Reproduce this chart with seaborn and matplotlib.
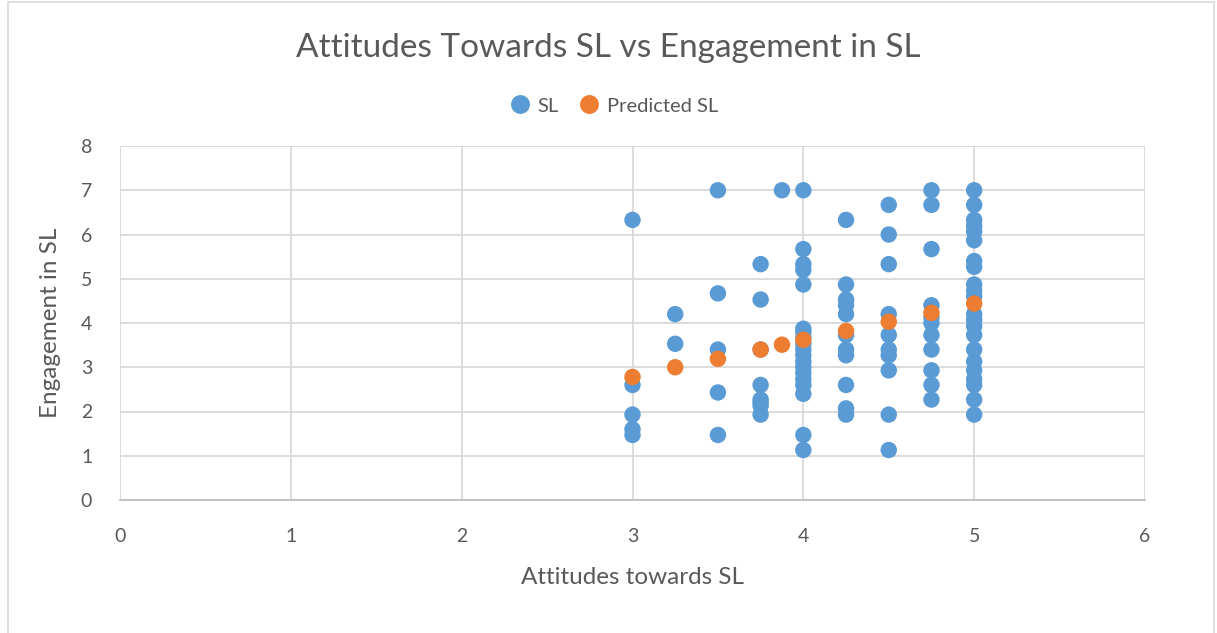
import matplotlib
matplotlib.use("Agg")
import matplotlib.pyplot as plt
import seaborn as sns
import pandas as pd
from matplotlib.patches import Rectangle

# ---- data ----
sl_x = ([3.0] * 5 + [3.25] * 2 + [3.5] * 5 + [3.75] * 8 + [3.875] * 1 +
        [4.0] * 19 + [4.25] * 11 + [4.5] * 10 + [4.75] * 11 + [5.0] * 22)
sl_y = [6.33, 2.6, 1.93, 1.6, 1.47,
        4.2, 3.53,
        7.0, 4.67, 3.4, 2.43, 1.47,
        5.33, 4.53, 3.4, 2.6, 2.27, 2.2, 2.13, 1.93,
        7.0,
        7.0, 5.67, 5.33, 5.2, 4.87, 3.87, 3.8, 3.67, 3.53, 3.4, 3.27, 3.13, 3.0,
        2.87, 2.73, 2.6, 2.4, 1.47, 1.13,
        6.33, 4.87, 4.53, 4.4, 4.2, 3.73, 3.4, 3.27, 2.6, 2.07, 1.93,
        6.67, 6.0, 5.33, 4.2, 3.73, 3.4, 3.27, 2.93, 1.93, 1.13,
        7.0, 6.67, 5.67, 4.4, 4.13, 4.0, 3.73, 3.4, 2.93, 2.6, 2.27,
        7.0, 6.67, 6.33, 6.2, 6.07, 5.87, 5.4, 5.27, 4.87, 4.73, 4.6, 4.2,
        4.07, 3.93, 3.73, 3.4, 3.13, 2.93, 2.73, 2.6, 2.27, 1.93]
pred_x = [3.0, 3.25, 3.5, 3.75, 3.875, 4.0, 4.25, 4.5, 4.75, 5.0]
pred_y = [2.78, 3.0, 3.19, 3.40, 3.51, 3.62, 3.82, 4.03, 4.23, 4.44]

x_ticks = [0, 1, 2, 3, 4, 5, 6]
y_ticks = [0, 1, 2, 3, 4, 5, 6, 7, 8]
series_names = ["SL", "Predicted SL"]

title = "Attitudes Towards SL vs Engagement in SL"
x_label = "Attitudes towards SL"
y_label = "Engagement in SL"

df = pd.DataFrame({
    "x": list(sl_x) + pred_x,
    "y": sl_y + pred_y,
    "series": [series_names[0]] * len(sl_x) + [series_names[1]] * len(pred_x),
})

# ---- style ----
sns.set_theme(style="white")
plt.rcParams["font.family"] = ["Lato", "DejaVu Sans"]
text_col = "#595959"
grid_col = "#D9D9D9"
palette = {"SL": "#5B9BD5", "Predicted SL": "#ED7D31"}

fig = plt.figure(figsize=(12.17, 6.33), dpi=100)
ax = fig.add_axes([120 / 1217, 1 - 500 / 633, (1145 - 120) / 1217, (500 - 146) / 633])

sns.scatterplot(data=df, x="x", y="y", hue="series", palette=palette,
                s=140, edgecolor="none", linewidth=0, ax=ax, zorder=3)

ax.set_xlim(0, 6)
ax.set_ylim(0, 8)
ax.set_xticks(x_ticks)
ax.set_yticks(y_ticks)
ax.grid(True, color=grid_col, linewidth=1.3, zorder=0)
ax.set_axisbelow(True)
for s in ["top", "right", "left"]:
    ax.spines[s].set_visible(False)
ax.spines["bottom"].set_color("#BFBFBF")
ax.spines["bottom"].set_linewidth(1.3)
ax.tick_params(axis="both", length=0, labelsize=14, labelcolor=text_col)
ax.tick_params(axis="x", pad=20)
ax.tick_params(axis="y", pad=20)

ax.set_xlabel(x_label, fontsize=17.5, color=text_col, labelpad=16)
ax.set_ylabel(y_label, fontsize=17.5, color=text_col, labelpad=14)

fig.text(0.5, 1 - 48 / 633, title, ha="center", va="center", fontsize=24, color=text_col)

sns.move_legend(ax, "center", bbox_to_anchor=(609 / 1217, 1 - 106 / 633),
                bbox_transform=fig.transFigure, ncol=2, frameon=False, title=None,
                fontsize=14.5, handletextpad=-0.1, columnspacing=0.5, markerscale=1.15,
                labelcolor=text_col)

fig.patches.append(Rectangle((8 / 1217, -0.05), 1 - 11 / 1217, 1.05 - 2 / 633,
                             transform=fig.transFigure, fill=False,
                             edgecolor="#D9D9D9", linewidth=1.2))

fig.savefig("out.png", dpi=100, facecolor="white")
